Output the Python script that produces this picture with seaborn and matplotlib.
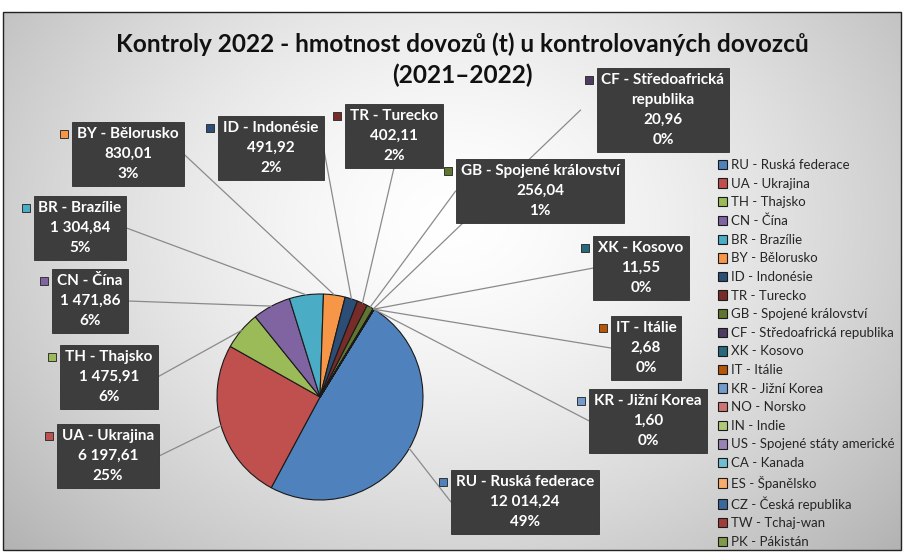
import numpy as np
import matplotlib
matplotlib.use("Agg")
import matplotlib.pyplot as plt
import seaborn as sns
from matplotlib.patches import Rectangle

sns.set_theme(style="white")
plt.rcParams['font.family'] = ['Lato', 'DejaVu Sans']

# ---------------- data ----------------
codes = ["RU", "UA", "TH", "CN", "BR", "BY", "ID", "TR", "GB", "CF", "XK", "IT",
         "KR", "NO", "IN", "US", "CA", "ES", "CZ", "TW", "PK"]
names = ["Ruská federace", "Ukrajina", "Thajsko", "Čína", "Brazílie", "Bělorusko",
         "Indonésie", "Turecko", "Spojené království", "Středoafrická republika",
         "Kosovo", "Itálie", "Jižní Korea", "Norsko", "Indie",
         "Spojené státy americké", "Kanada", "Španělsko", "Česká republika",
         "Tchaj-wan", "Pákistán"]
values = [12014.24, 6197.61, 1475.91, 1471.86, 1304.84, 830.01, 491.92, 402.11,
          256.04, 20.96, 11.55, 2.68, 1.60, 0, 0, 0, 0, 0, 0, 0, 0]
colors = ["#4F81BD", "#C0504D", "#9BBB59", "#8064A2", "#4BACC6", "#F79646",
          "#2C4D75", "#772C2A", "#5F7530", "#4D3B62", "#276A7C", "#B65708",
          "#729ACA", "#CD7371", "#AFC97A", "#9983B5", "#6FBDD1", "#F9AB6B",
          "#3A679C", "#A03C3A", "#7F9A48"]
title_lines = ["Kontroly 2022 - hmotnost dovozů (t) u kontrolovaných dovozců",
               "(2021–2022)"]

# label-box centres (image pixels, y downward) for labelled slices
label_pos = {
    "RU": (525, 502), "UA": (108, 456), "TH": (109, 377), "CN": (90, 301),
    "BR": (80, 228), "BY": (128, 154), "ID": (271, 148), "TR": (394, 136),
    "GB": (540, 191), "CF": (663, 110), "XK": (641, 268), "IT": (646, 348),
    "KR": (648, 421),
}
label_names = {"CF": "CF - Středoafrická\nrepublika"}

W, H = 904, 552
fig = plt.figure(figsize=(W / 100, H / 100), dpi=100)
fig.patch.set_facecolor("white")

# background gradient inside chart border
bg = fig.add_axes([0, 0, 1, 1])
bg.set_xlim(0, W); bg.set_ylim(0, H); bg.axis("off")
yy, xx = np.mgrid[0:540:2, 3:901:2]
d = np.sqrt(((xx - 452) / 540.0) ** 2 + ((yy - 330) / 430.0) ** 2)
g = 1.0 - 0.25 * np.clip(d, 0, 1.2) ** 1.5
img = np.dstack([g, g, g])
bg.imshow(img, extent=(3, 901, 2, 540), origin="lower", aspect="auto", zorder=0)
bg.add_patch(Rectangle((3, 2), 898, 538, fill=False, ec="#222222", lw=1.0, zorder=1))

ax = fig.add_axes([0, 0, 1, 1])
ax.patch.set_alpha(0)
cx, cy, R = 320, H - 397, 103
start = 58.4
wedges, _ = ax.pie(values, colors=colors, startangle=start, counterclock=False,
                   center=(cx, cy), radius=R,
                   wedgeprops=dict(edgecolor="#1a1a1a", linewidth=0.8))
ax.set_xlim(0, W); ax.set_ylim(0, H); ax.set_aspect("equal"); ax.axis("off")

total = sum(values)

def fmt(v):
    s = f"{v:,.2f}"
    return s.replace(",", " ").replace(".", ",")

texts = {}
for i, c in enumerate(codes):
    if c not in label_pos:
        continue
    nm = label_names.get(c, f"{c} - {names[i]}")
    pct = f"{round(values[i] / total * 100):.0f}%"
    x, y = label_pos[c]
    t = ax.text(x, H - y, f"{nm}\n{fmt(values[i])}\n{pct}", ha="center", va="center",
                color="white", fontsize=11, fontweight="bold", linespacing=1.55,
                multialignment="center", zorder=5,
                bbox=dict(boxstyle="square,pad=0.32", fc="#3d3d3d", ec="#2e2e2e", lw=0.6))
    texts[c] = (i, t, nm.count("\n") + 3)

fig.canvas.draw()
inv = ax.transData.inverted()
for c, (i, t, nl) in texts.items():
    ext = t.get_bbox_patch().get_window_extent()
    (bx0, by0), (bx1, by1) = inv.transform([[ext.x0, ext.y0], [ext.x1, ext.y1]])
    # key square
    lh = (by1 - by0) / nl
    ky = by1 - lh * 0.58
    ax.add_patch(Rectangle((bx0 - 12, ky - 4), 8, 8, fc=colors[i], ec="#333333",
                           lw=0.7, zorder=6))
    # leader line
    w = wedges[i]
    mid = np.deg2rad((w.theta1 + w.theta2) / 2)
    tx, ty = cx + R * np.cos(mid), cy + R * np.sin(mid)
    if tx > bx1:
        sx, sy = bx1, (by0 + by1) / 2
    elif tx < bx0:
        sx, sy = bx0 - (16 if c == "CF" else 0), (by0 + by1) / 2
    elif ty < by0:
        sx, sy = (bx0 + bx1) / 2, by0
    else:
        sx, sy = (bx0 + bx1) / 2, by1
    ax.plot([sx, tx], [sy, ty], color="#8a8a8a", lw=0.9, zorder=2)

ax.text(W / 2 + 10, H - 44, title_lines[0], ha="center", va="center", fontsize=17.6,
        fontweight="bold", color="#111111")
ax.text(W / 2 + 10, H - 75, title_lines[1], ha="center", va="center", fontsize=17.6,
        fontweight="bold", color="#111111")

leg = ax.legend(wedges, [f"{c} - {n}" for c, n in zip(codes, names)],
                loc="upper left", bbox_to_anchor=(718 / W, 1 - 159 / H),
                bbox_transform=fig.transFigure, frameon=False, fontsize=9.5,
                handlelength=0.72, handleheight=0.72, handletextpad=0.3,
                labelspacing=0.50, borderaxespad=0, borderpad=0)
for tx_ in leg.get_texts():
    tx_.set_color("#262626")

fig.savefig("out.png", dpi=100)
